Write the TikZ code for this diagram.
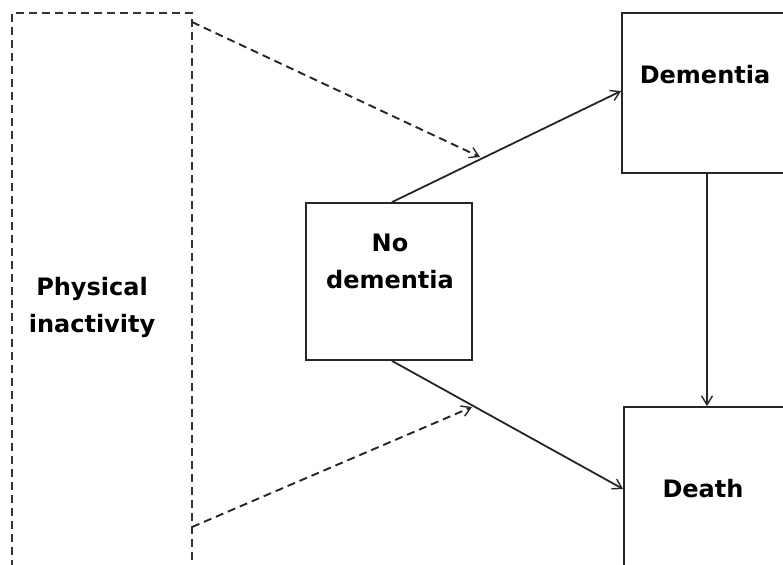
\documentclass[tikz,border=0pt]{standalone}
\usepackage{fontspec}
\setmainfont{DejaVu Sans}
\usetikzlibrary{arrows.meta}
\begin{document}
\begin{tikzpicture}[x=1pt,y=-1pt,
  lbl/.style={font=\fontsize{24}{37}\selectfont\bfseries, align=center, inner sep=0pt},
  box/.style={draw=black!85, line width=1.8pt, rectangle, inner sep=0pt},
  dbox/.style={box, draw=black!80, line width=2pt, dash pattern=on 8pt off 5pt},
  conn/.style={draw=black!85, line width=1.8pt, -{Straight Barb[length=9pt,width=11pt,line width=1.4pt]}},
  dconn/.style={conn, dash pattern=on 8pt off 5pt, line width=1.9pt}]
\useasboundingbox (0,0) rectangle (783,564);
\clip (0,0) rectangle (783,564);
\node[dbox, minimum width=180pt, minimum height=588pt] (phys) at (102,307) {};
\node[lbl] (physt) at (92,307) {Physical\\inactivity};
\node[box, minimum width=166pt, minimum height=157pt] (nd) at (389,281.5) {};
\node[lbl] (ndt) at (390,261) {No\\dementia};
\node[box, minimum width=170pt, minimum height=160pt] (dem) at (707,93) {};
\node[lbl] (demt) at (705,75) {Dementia};
\node[box, minimum width=166pt, minimum height=164pt] (death) at (707,489) {};
\node[lbl] (deatht) at (703,489) {Death};
\coordinate (t1) at (480,157);
\coordinate (t2) at (472,407);
\coordinate (s1) at (192,22);
\coordinate (s2) at (192,527);
\draw[conn] ([xshift=3pt]nd.north) -- ([yshift=2pt]dem.west);
\draw[conn] ([xshift=3pt]nd.south) -- (death.west);
\draw[conn] (dem.south) -- (death.north);
\draw[dconn] (s1) -- (t1);
\draw[dconn] (s2) -- (t2);
\end{tikzpicture}
\end{document}
